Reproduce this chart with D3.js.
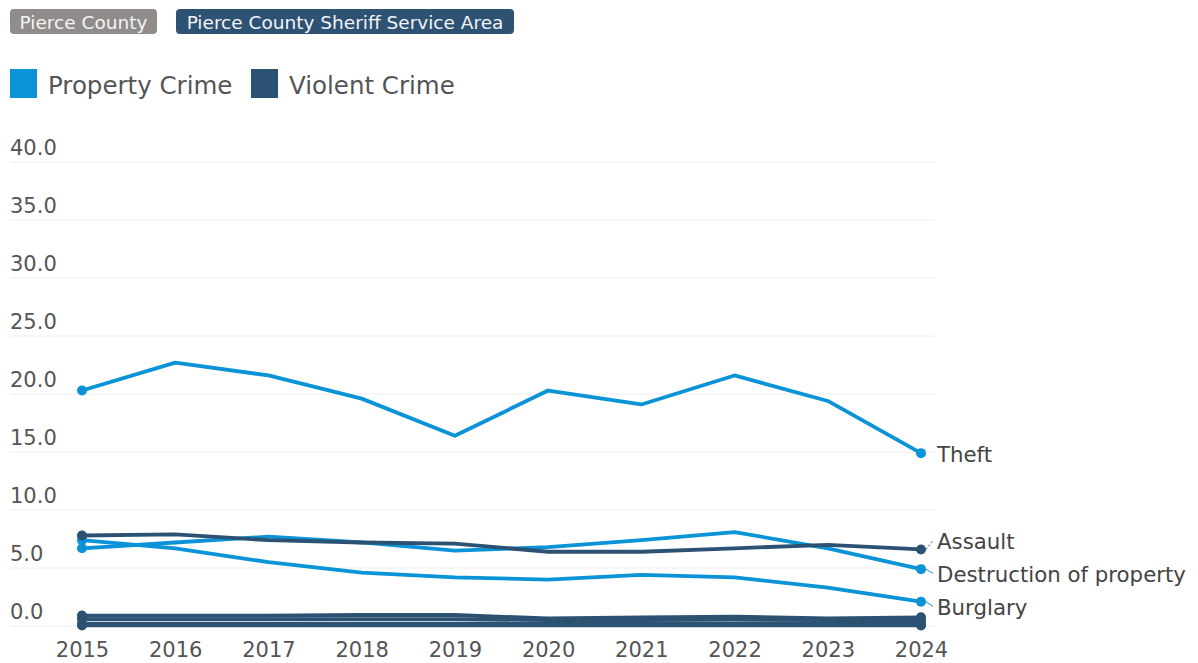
<!DOCTYPE html>
<html>
<head>
<meta charset="utf-8">
<script src="https://cdn.jsdelivr.net/npm/d3@7"></script>
<style>
  html, body { margin: 0; padding: 0; background: #fff; }
  svg { display: block; font-family: "DejaVu Sans", Verdana, sans-serif; }
</style>
</head>
<body>
<svg id="chart" width="1198" height="663"></svg>
<script>
// ---- data ----
const years = [2015, 2016, 2017, 2018, 2019, 2020, 2021, 2022, 2023, 2024];
const yTicks = [0, 5, 10, 15, 20, 25, 30, 35, 40];
const buttons = ["Pierce County", "Pierce County Sheriff Service Area"];
const legendItems = ["Property Crime", "Violent Crime"];

const theft       = [20.3, 22.7, 21.6, 19.6, 16.4, 20.3, 19.1, 21.6, 19.4, 14.9];
const destruction = [6.7, 7.2, 7.7, 7.2, 6.5, 6.8, 7.4, 8.1, 6.7, 4.9];
const burglary    = [7.4, 6.7, 5.5, 4.6, 4.2, 4.0, 4.4, 4.2, 3.3, 2.1];
const assault     = [7.8, 7.9, 7.4, 7.2, 7.1, 6.4, 6.4, 6.7, 7.0, 6.6];
const robbery     = [0.9, 0.9, 0.9, 0.95, 0.95, 0.65, 0.75, 0.8, 0.65, 0.75];
const rape        = [0.6, 0.6, 0.6, 0.6, 0.6, 0.5, 0.5, 0.55, 0.5, 0.5];
const kidnapping  = [0.2, 0.2, 0.2, 0.2, 0.2, 0.2, 0.2, 0.2, 0.2, 0.2];
const homicide    = [0.05, 0.05, 0.05, 0.05, 0.05, 0.05, 0.05, 0.05, 0.05, 0.05];

const series = [
  { name: "Theft", type: "Property Crime", values: theft, label: true },
  { name: "Destruction of property", type: "Property Crime", values: destruction, label: true },
  { name: "Burglary", type: "Property Crime", values: burglary, label: true },
  { name: "Homicide", type: "Violent Crime", values: homicide, label: false },
  { name: "Kidnapping", type: "Violent Crime", values: kidnapping, label: false },
  { name: "Rape", type: "Violent Crime", values: rape, label: false },
  { name: "Robbery", type: "Violent Crime", values: robbery, label: false },
  { name: "Assault", type: "Violent Crime", values: assault, label: true }
];

// ---- styling ----
const color = d3.scaleOrdinal().domain(legendItems).range(["#0a93d6", "#2c5273"]);
const svg = d3.select("#chart");

const x = d3.scalePoint().domain(years).range([82, 921]);
const y = d3.scaleLinear().domain([0, 40]).range([626, 162]);

// buttons
const btnGeom = [{ x: 10, w: 147, fill: "#8f8c8b" }, { x: 176, w: 338, fill: "#2d5274" }];
const bg = svg.append("g");
buttons.forEach((b, i) => {
  bg.append("rect").attr("x", btnGeom[i].x).attr("y", 9).attr("width", btnGeom[i].w)
    .attr("height", 25).attr("rx", 4).attr("fill", btnGeom[i].fill);
  bg.append("text").attr("x", btnGeom[i].x + btnGeom[i].w / 2).attr("y", 22)
    .attr("text-anchor", "middle").attr("dominant-baseline", "central")
    .attr("font-size", 18.5).attr("fill", "#f4f4f4").text(b);
});

// legend
const legX = [10, 251];
legendItems.forEach((l, i) => {
  svg.append("rect").attr("x", legX[i]).attr("y", 69).attr("width", 27).attr("height", 29)
    .attr("fill", color(l));
  svg.append("text").attr("x", legX[i] + 38).attr("y", 85).attr("dominant-baseline", "central")
    .attr("font-size", 24.5).attr("fill", "#555").text(l);
});

// gridlines & y labels
const grid = svg.append("g");
yTicks.forEach(t => {
  grid.append("line").attr("x1", 10).attr("x2", 935).attr("y1", y(t)).attr("y2", y(t))
    .attr("stroke", "#eeeeee").attr("stroke-width", 1);
  grid.append("text").attr("x", 10).attr("y", y(t) - 7).attr("font-size", 21)
    .attr("fill", "#555").text(d3.format(".1f")(t));
});

// x axis labels
const xAxis = d3.axisBottom(x).tickSize(0).tickPadding(0);
const xg = svg.append("g").attr("transform", "translate(0,644)").call(xAxis);
xg.select(".domain").remove();
xg.selectAll("text").attr("font-size", 21).attr("fill", "#555")
  .attr("font-family", "DejaVu Sans, Verdana, sans-serif").attr("dy", "0.6em");

// lines
const line = d3.line().x((d, i) => x(years[i])).y(d => y(d));
const lg = svg.append("g");
series.forEach(s => {
  lg.append("path").attr("d", line(s.values)).attr("fill", "none")
    .attr("stroke", color(s.type)).attr("stroke-width", 3.8).attr("stroke-linejoin", "round");
  [0, s.values.length - 1].forEach(i => {
    lg.append("circle").attr("cx", x(years[i])).attr("cy", y(s.values[i])).attr("r", 5)
      .attr("fill", color(s.type));
  });
});

// end labels with simple collision relaxation
const labelled = series.filter(s => s.label).map(s => ({
  s, target: y(s.values[s.values.length - 1])
})).sort((a, b) => a.target - b.target);
const gap = 33;
let groups = labelled.map(l => ({ items: [l], pos: l.target }));
let changed = true;
while (changed) {
  changed = false;
  for (let i = 0; i < groups.length - 1; i++) {
    const a = groups[i], b = groups[i + 1];
    const aEnd = a.pos + (a.items.length - 1) * gap;
    if (b.pos - aEnd < gap) {
      const items = a.items.concat(b.items);
      const mean = d3.mean(items, d => d.target);
      groups.splice(i, 2, { items, pos: mean - (items.length - 1) * gap / 2 });
      changed = true;
      break;
    }
  }
}
groups.forEach(g => g.items.forEach((it, k) => { it.ly = g.pos + k * gap; }));

const lab = svg.append("g");
labelled.forEach(l => {
  const x0 = x(years[years.length - 1]);
  if (Math.abs(l.ly - l.target) > 2) {
    lab.append("line").attr("x1", x0 + 5).attr("y1", l.target)
      .attr("x2", x0 + 12).attr("y2", l.ly)
      .attr("stroke", color(l.s.type)).attr("stroke-width", 1)
      .attr("stroke-dasharray", l.s.type === "Violent Crime" ? "2,2" : null);
  }
  lab.append("text").attr("x", 937).attr("y", l.ly + 1).attr("dominant-baseline", "central")
    .attr("font-size", 21.3).attr("fill", "#444").text(l.s.name);
});
</script>
</body>
</html>
